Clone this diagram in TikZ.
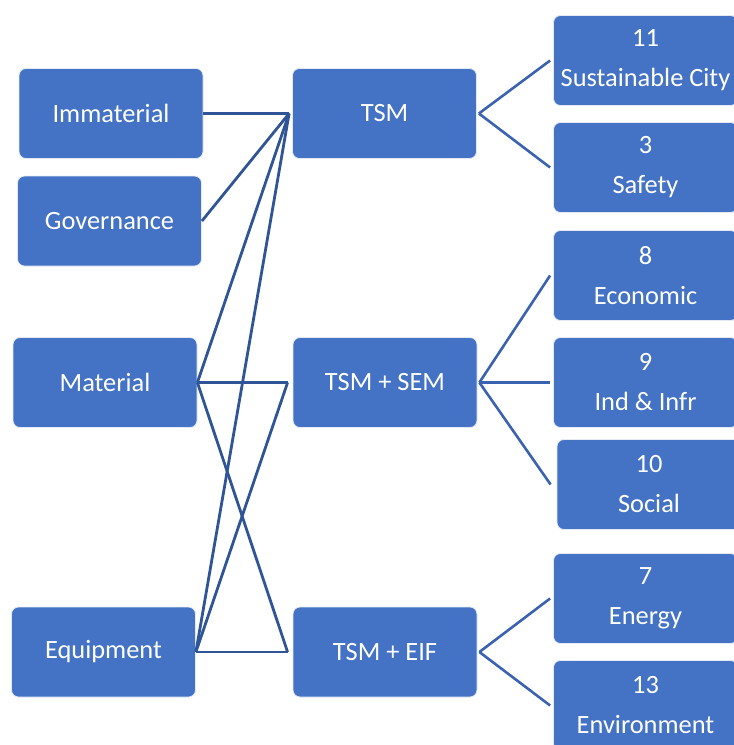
\documentclass[tikz,border=0pt]{standalone}
\usepackage{fontspec}
\setmainfont{Carlito}
\definecolor{boxblue}{RGB}{68,114,196}
\definecolor{linkdark}{RGB}{47,85,151}
\definecolor{linkright}{RGB}{58,98,176}
\begin{document}
\begin{tikzpicture}[x=1pt,y=-1pt,
  box/.style={rectangle, rounded corners=7pt, fill=boxblue, draw=white!85!boxblue, line width=0.8pt,
    minimum width=184pt, minimum height=90pt, inner sep=0pt, text=white, align=center,
    font=\fontsize{26.4}{40}\selectfont},
  leftlink/.style={draw=linkdark, line width=2.8pt},
  rightlink/.style={draw=linkright, line width=2.6pt}]
\useasboundingbox (0,0) rectangle (734,745);
% left column
\node[box] (imm) at (111,113.5) {Immaterial};
\node[box] (gov) at (109.5,221) {Governance};
\node[box] (mat) at (105,382.5) {Material};
\node[box] (equ) at (103.5,652) {Equipment};
% middle column
\node[box] (tsm) at (384.5,113.5) {TSM};
\node[box] (sem) at (385,382.5) {TSM + SEM};
\node[box] (eif) at (385,652) {TSM + EIF};
% right column
\node[box] (g11) at (645.5,60.5) {11\\Sustainable City};
\node[box] (g3) at (645.5,167.5) {3\\Safety};
\node[box] (g8) at (645.5,275.5) {8\\Economic};
\node[box] (g9) at (645.5,382.5) {9\\Ind \& Infr};
\node[box] (g10) at (649,484.5) {10\\Social};
\node[box] (g7) at (645.5,598.5) {7\\Energy};
\node[box] (g13) at (645.5,705.5) {13\\Environment};
% left connectors
\draw[leftlink] (imm.east) -- ([xshift=-3pt]tsm.west);
\draw[leftlink] (gov.east) -- ([xshift=-3pt]tsm.west);
\draw[leftlink] (mat.east) -- ([xshift=-3pt]tsm.west);
\draw[leftlink] (equ.east) -- ([xshift=-3pt]tsm.west);
\draw[leftlink] (mat.east) -- ([xshift=-5pt]sem.west);
\draw[leftlink] (mat.east) -- ([xshift=-5pt]eif.west);
\draw[leftlink] (equ.east) -- ([xshift=-5pt]sem.west);
\draw[leftlink] (equ.east) -- ([xshift=-5pt]eif.west);
% right connectors
\draw[rightlink] ([xshift=2pt]tsm.east) -- ([xshift=-3pt]g11.west);
\draw[rightlink] ([xshift=2pt]tsm.east) -- ([xshift=-3pt]g3.west);
\draw[rightlink] ([xshift=2pt]sem.east) -- ([xshift=-3pt]g8.west);
\draw[rightlink] ([xshift=2pt]sem.east) -- ([xshift=-3pt]g9.west);
\draw[rightlink] ([xshift=2pt]sem.east) -- ([xshift=-6pt]g10.west);
\draw[rightlink] ([xshift=2pt]eif.east) -- ([xshift=-3pt]g7.west);
\draw[rightlink] ([xshift=2pt]eif.east) -- ([xshift=-3pt]g13.west);
\end{tikzpicture}
\end{document}
